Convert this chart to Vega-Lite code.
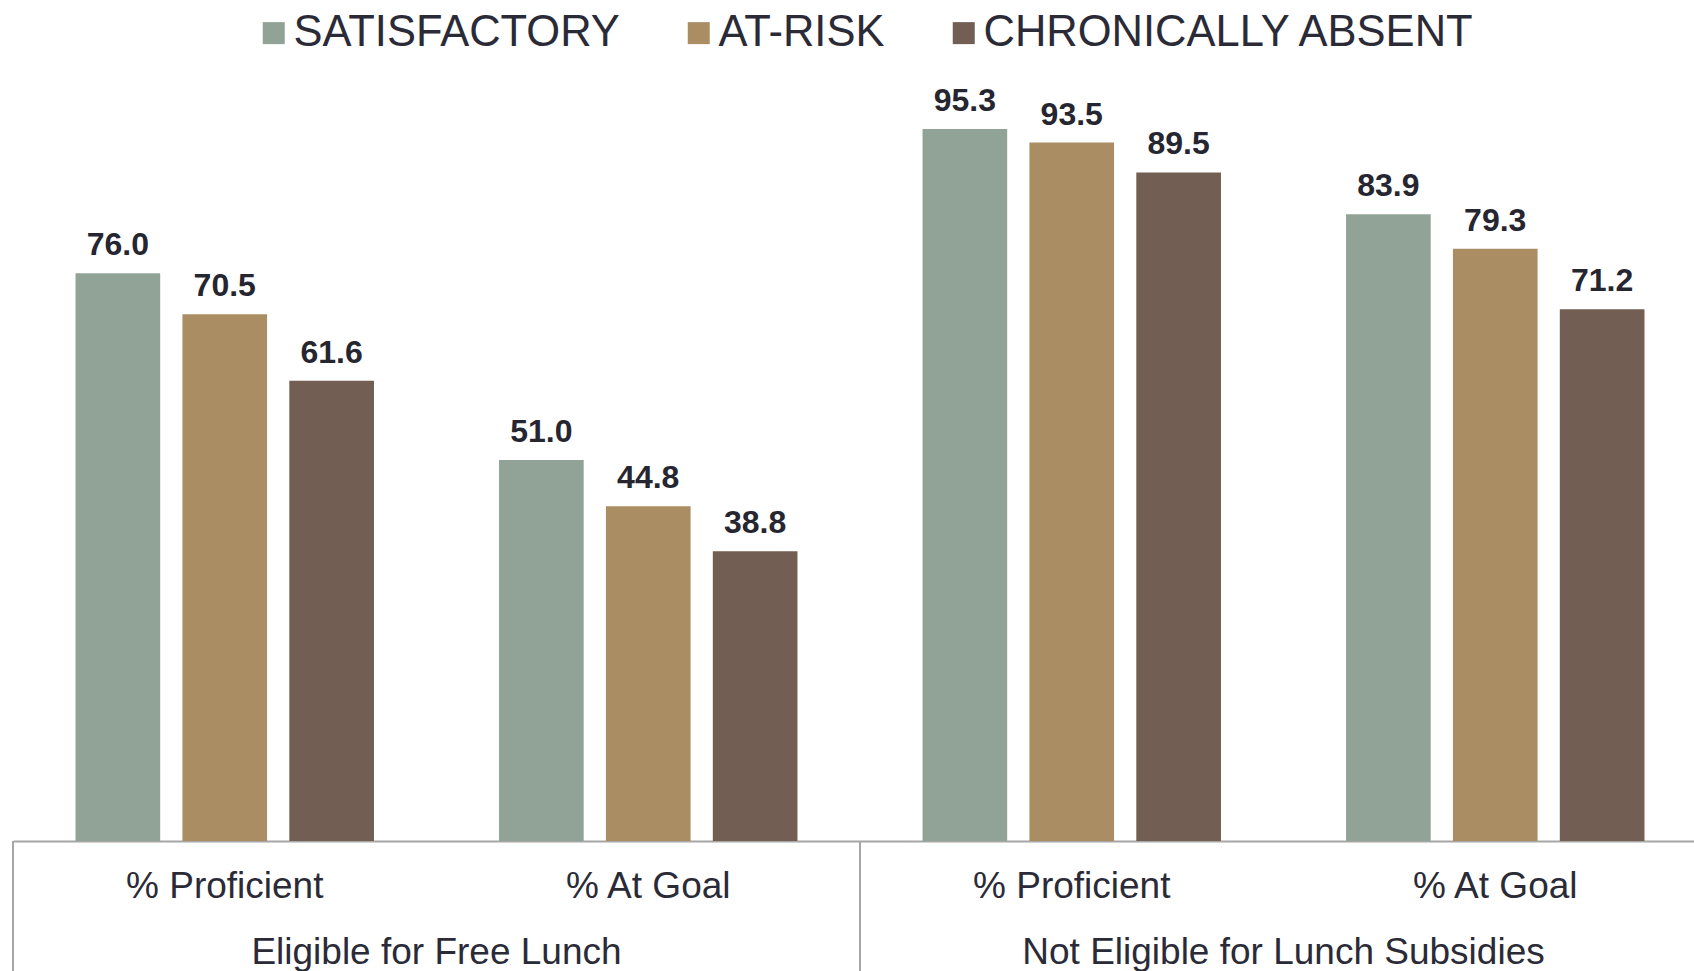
{
  "$schema": "https://vega.github.io/schema/vega-lite/v6.json",
  "width": 1694,
  "height": 747,
  "autosize": {"type": "none"},
  "padding": {"left": 13, "top": 94, "right": -13, "bottom": 130},
  "config": {"view": {"stroke": null}, "font": "Liberation Sans"},
  "datasets": {
    "bars": [
      {"cat": "Eligible for Free Lunch|% Proficient", "status": "SATISFACTORY", "value": 76.0},
      {"cat": "Eligible for Free Lunch|% Proficient", "status": "AT-RISK", "value": 70.5},
      {"cat": "Eligible for Free Lunch|% Proficient", "status": "CHRONICALLY ABSENT", "value": 61.6},
      {"cat": "Eligible for Free Lunch|% At Goal", "status": "SATISFACTORY", "value": 51.0},
      {"cat": "Eligible for Free Lunch|% At Goal", "status": "AT-RISK", "value": 44.8},
      {"cat": "Eligible for Free Lunch|% At Goal", "status": "CHRONICALLY ABSENT", "value": 38.8},
      {"cat": "Not Eligible for Lunch Subsidies|% Proficient", "status": "SATISFACTORY", "value": 95.3},
      {"cat": "Not Eligible for Lunch Subsidies|% Proficient", "status": "AT-RISK", "value": 93.5},
      {"cat": "Not Eligible for Lunch Subsidies|% Proficient", "status": "CHRONICALLY ABSENT", "value": 89.5},
      {"cat": "Not Eligible for Lunch Subsidies|% At Goal", "status": "SATISFACTORY", "value": 83.9},
      {"cat": "Not Eligible for Lunch Subsidies|% At Goal", "status": "AT-RISK", "value": 79.3},
      {"cat": "Not Eligible for Lunch Subsidies|% At Goal", "status": "CHRONICALLY ABSENT", "value": 71.2}
    ],
    "groups": [
      {"cat": "Eligible for Free Lunch|% Proficient", "group": "Eligible for Free Lunch"},
      {"cat": "Not Eligible for Lunch Subsidies|% Proficient", "group": "Not Eligible for Lunch Subsidies"}
    ]
  },
  "encoding": {
    "x": {
      "field": "cat", "type": "nominal",
      "scale": {"domain": ["Eligible for Free Lunch|% Proficient", "Eligible for Free Lunch|% At Goal", "Not Eligible for Lunch Subsidies|% Proficient", "Not Eligible for Lunch Subsidies|% At Goal"], "paddingInner": 0, "paddingOuter": 0},
      "axis": {
        "title": null, "orient": "bottom", "domain": true, "domainColor": "#a6a6a6", "domainWidth": 2,
        "ticks": false, "tickSize": 0, "labelExpr": "split(datum.value, '|')[1]", "labelFontSize": 37,
        "labelColor": "#2b2b38", "labelPadding": 45, "labelBaseline": "middle", "labelAngle": 0, "labelLimit": 400
      }
    }
  },
  "layer": [
    {
      "data": {"name": "bars"},
      "mark": {"type": "bar"},
      "encoding": {
        "xOffset": {
          "field": "status", "type": "nominal",
          "scale": {"domain": ["SATISFACTORY", "AT-RISK", "CHRONICALLY ABSENT"], "paddingInner": 0.208, "paddingOuter": 0.585}
        },
        "y": {"field": "value", "type": "quantitative", "scale": {"domain": [0, 100]}, "axis": null},
        "color": {
          "field": "status", "type": "nominal",
          "scale": {"domain": ["SATISFACTORY", "AT-RISK", "CHRONICALLY ABSENT"], "range": ["#91a397", "#ab8d64", "#725e52"]},
          "legend": {
            "orient": "none", "legendX": 239, "legendY": -83, "direction": "horizontal", "title": null,
            "symbolType": "square", "symbolSize": 484, "symbolStrokeWidth": 0, "labelFontSize": 43.5,
            "labelColor": "#2b2b38", "labelOffset": -2, "columnPadding": 57, "labelLimit": 700
          }
        }
      }
    },
    {
      "data": {"name": "bars"},
      "mark": {"type": "text", "fontSize": 32, "fontWeight": "bold", "baseline": "alphabetic", "dy": -18, "color": "#262631"},
      "encoding": {
        "xOffset": {"field": "status", "type": "nominal", "scale": {"domain": ["SATISFACTORY", "AT-RISK", "CHRONICALLY ABSENT"]}},
        "y": {"field": "value", "type": "quantitative", "axis": null},
        "text": {"field": "value", "type": "quantitative", "format": ".1f"}
      }
    },
    {
      "data": {"name": "groups"},
      "mark": {"type": "text", "fontSize": 37, "baseline": "middle", "dy": 112, "color": "#2b2b38"},
      "encoding": {
        "x": {"field": "cat", "type": "nominal", "bandPosition": 1},
        "y": {"datum": 0, "type": "quantitative", "axis": null},
        "text": {"field": "group"}
      }
    },
    {
      "data": {"name": "groups"},
      "mark": {"type": "rule", "color": "#a6a6a6", "strokeWidth": 2},
      "encoding": {
        "x": {"field": "cat", "type": "nominal", "bandPosition": 0},
        "y": {"datum": 0, "type": "quantitative", "axis": null},
        "y2": {"datum": -20}
      }
    }
  ]
}
